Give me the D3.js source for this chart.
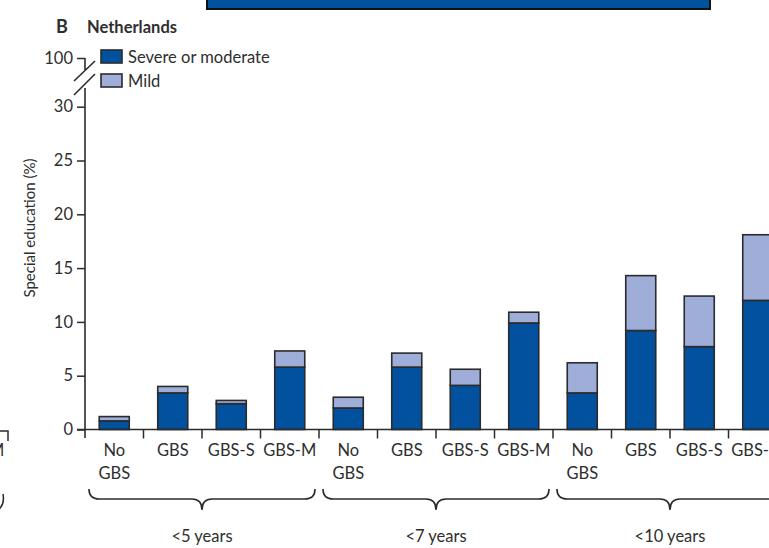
<!DOCTYPE html>
<html><head><meta charset="utf-8">
<script src="https://cdn.jsdelivr.net/npm/d3@7"></script>
<style>
html,body{margin:0;padding:0;background:#fff;}
svg{display:block;font-family:Lato,"Open Sans",sans-serif;}
</style></head>
<body>
<svg id="chart" width="769" height="548"></svg>
<script>
// ---- data ----
const categories = ["No GBS","GBS","GBS-S","GBS-M","No GBS","GBS","GBS-S","GBS-M","No GBS","GBS","GBS-S","GBS-M"];
const groups = ["<5 years","<7 years","<10 years"];
const severe = [0.8,3.4,2.4,5.8, 2.0,5.8,4.1,9.9, 3.4,9.2,7.7,12.0];
const mild   = [0.4,0.6,0.3,1.5, 1.0,1.3,1.5,1.0, 2.8,5.1,4.7,6.1];
const yTicks = [0,5,10,15,20,25,30];
const breakTick = [100];
const seriesNames = ["Severe or moderate","Mild"];

const colSevere = "#02519e", colMild = "#9eaed8", stroke = "#2b2b2b", txt = "#2e2e2e";
const FS = 16.5;

const svg = d3.select("#chart");
const ids = categories.map((c,i)=>i);
const x = d3.scaleBand().domain(ids).range([85, 85+12*58.5]).paddingInner(0.487).paddingOuter(0.2435);
const y = d3.scaleLinear().domain([0,30]).range([429.5,106.7]);
const yB = d3.scaleLinear().domain([95,100]).range([64,58]);

// top artifact box from other panel
svg.append("rect").attr("x",207).attr("y",-5).attr("width",503).attr("height",14)
  .attr("fill","#00529c").attr("stroke","#111").attr("stroke-width",2);

// title
svg.append("text").attr("x",56).attr("y",33).attr("font-weight","bold").attr("font-size",18).attr("fill",txt).text("B");
svg.append("text").attr("x",87).attr("y",33).attr("font-weight","bold").attr("font-size",16.5).attr("fill",txt).text("Netherlands");

// bars
const stack = ids.map(i=>({i, s:severe[i], m:mild[i]}));
const g = svg.append("g");
g.selectAll("rect.sev").data(stack).join("rect").attr("class","sev")
  .attr("x",d=>x(d.i)).attr("width",x.bandwidth())
  .attr("y",d=>y(d.s)).attr("height",d=>y(0)-y(d.s))
  .attr("fill",colSevere).attr("stroke",stroke).attr("stroke-width",1.6);
g.selectAll("rect.mild").data(stack).join("rect").attr("class","mild")
  .attr("x",d=>x(d.i)).attr("width",x.bandwidth())
  .attr("y",d=>y(d.s+d.m)).attr("height",d=>y(d.s)-y(d.s+d.m))
  .attr("fill",colMild).attr("stroke",stroke).attr("stroke-width",1.6);

// y axis
const ax = svg.append("g").attr("transform","translate(85,0)")
  .call(d3.axisLeft(y).tickValues(yTicks).tickFormat(d3.format("d")).tickSize(8).tickPadding(4));
ax.select(".domain").remove();
ax.selectAll(".tick line").attr("stroke",stroke).attr("stroke-width",1.5);
ax.selectAll(".tick text").attr("font-size",FS).attr("fill",txt).attr("font-family","Lato,sans-serif");
// axis line lower segment
svg.append("line").attr("x1",85).attr("x2",85).attr("y1",88).attr("y2",438).attr("stroke",stroke).attr("stroke-width",1.6);
// break part
const axB = svg.append("g").attr("transform","translate(85,0)")
  .call(d3.axisLeft(yB).tickValues(breakTick).tickFormat(d3.format("d")).tickSize(8).tickPadding(4));
axB.select(".domain").remove();
axB.selectAll(".tick line").attr("stroke",stroke).attr("stroke-width",1.5);
axB.selectAll(".tick text").attr("font-size",FS).attr("fill",txt).attr("font-family","Lato,sans-serif");
svg.append("line").attr("x1",85).attr("x2",85).attr("y1",yB(100)).attr("y2",70).attr("stroke",stroke).attr("stroke-width",1.6);
svg.append("line").attr("x1",74).attr("y1",81).attr("x2",95).attr("y2",61).attr("stroke",stroke).attr("stroke-width",1.6);
svg.append("line").attr("x1",74).attr("y1",95).attr("x2",95).attr("y2",74).attr("stroke",stroke).attr("stroke-width",1.6);

// y label
svg.append("text").attr("transform","translate(35,228) rotate(-90)").attr("text-anchor","middle")
  .attr("font-size",15).attr("fill",txt).text("Special education (%)");

// x axis line and separator ticks
svg.append("line").attr("x1",77).attr("x2",769).attr("y1",y(0)).attr("y2",y(0)).attr("stroke",stroke).attr("stroke-width",1.6);
const bounds = ids.slice(1).map(i=>x(i)-x.step()*x.paddingInner()/2);
svg.selectAll("line.sep").data(bounds).join("line").attr("class","sep")
  .attr("x1",d=>d).attr("x2",d=>d).attr("y1",y(0)).attr("y2",y(0)+9)
  .attr("stroke",stroke).attr("stroke-width",1.5);

// category labels
const cx = i=>x(i)+x.bandwidth()/2;
ids.forEach(i=>{
  const parts = categories[i]==="No GBS" ? ["No","GBS"] : [categories[i]];
  const t = svg.append("text").attr("text-anchor","middle").attr("font-size",FS).attr("fill",txt);
  parts.forEach((p,k)=>t.append("tspan").attr("x",cx(i)).attr("y",456+k*23).text(p));
});

// braces + group labels
groups.forEach((gname,gi)=>{
  const xa = x(gi*4) - x.step()*x.paddingInner()/2 + 4;
  const xb = x(gi*4+3) + x.bandwidth() + x.step()*x.paddingInner()/2 - 4;
  const m = (xa+xb)/2;
  const p = `M${xa},489 Q${xa},499 ${xa+10},499 L${m-10},499 Q${m},499 ${m},510 Q${m},499 ${m+10},499 L${xb-10},499 Q${xb},499 ${xb},489`;
  svg.append("path").attr("d",p).attr("fill","none").attr("stroke",stroke).attr("stroke-width",1.6);
  svg.append("text").attr("x",m).attr("y",542).attr("text-anchor","middle").attr("font-size",FS).attr("fill",txt).text(gname);
});

// legend
const leg = svg.append("g");
[colSevere,colMild].forEach((c,k)=>{
  leg.append("rect").attr("x",101).attr("y",50+k*24).attr("width",21).attr("height",13)
    .attr("fill",c).attr("stroke",stroke).attr("stroke-width",1.6);
  leg.append("text").attr("x",128).attr("y",63+k*24).attr("font-size",FS).attr("fill",txt).text(seriesNames[k]);
});

// left-edge fragments of neighbouring panel
svg.append("path").attr("d","M0,431 L8,431 L8,441").attr("fill","none").attr("stroke",stroke).attr("stroke-width",1.5);
svg.append("path").attr("d","M3,494 Q5,505 -2,510").attr("fill","none").attr("stroke",stroke).attr("stroke-width",1.5);
svg.append("text").attr("x",-11).attr("y",456).attr("font-size",FS).attr("fill",txt).text("M");
</script>
</body></html>
